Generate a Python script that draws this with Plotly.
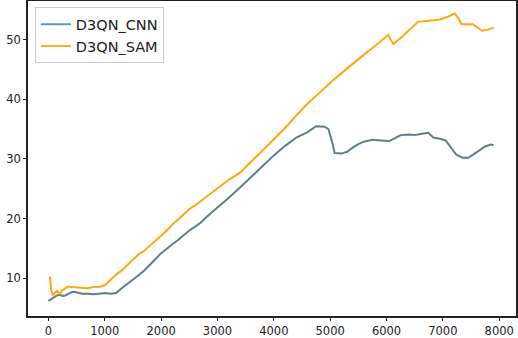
import plotly.graph_objects as go

# D3QN_CNN curve
cnn_x = [0, 50, 100, 150, 200, 250, 300, 350, 400, 450, 500, 550, 600, 700, 800, 900,
         1000, 1100, 1200, 1300, 1400, 1500, 1600, 1700, 1800, 1900, 2000, 2100, 2200,
         2300, 2400, 2500, 2600, 2700, 2800, 2900, 3000, 3200, 3400, 3600, 3800, 4000,
         4200, 4400, 4600, 4750, 4900, 4970, 5030, 5080, 5200, 5300, 5400, 5500, 5600,
         5750, 5900, 6050, 6150, 6250, 6400, 6500, 6600, 6740, 6830, 6950, 7050, 7130,
         7240, 7350, 7450, 7550, 7650, 7750, 7850, 7900]
cnn_y = [6.2, 6.5, 6.9, 7.1, 7.2, 7.0, 7.1, 7.4, 7.6, 7.7, 7.6, 7.5, 7.4, 7.4, 7.3, 7.4,
         7.5, 7.4, 7.5, 8.3, 9.0, 9.7, 10.5, 11.3, 12.2, 13.2, 14.2, 15.0, 15.7,
         16.4, 17.2, 18.0, 18.6, 19.3, 20.2, 21.0, 21.8, 23.5, 25.2, 27.0, 28.8, 30.6,
         32.2, 33.6, 34.5, 35.5, 35.4, 35.0, 33.0, 31.0, 30.9, 31.2, 31.9, 32.5, 32.9,
         33.2, 33.1, 33.0, 33.5, 34.0, 34.1, 34.0, 34.2, 34.4, 33.6, 33.4, 33.1, 32.0,
         30.7, 30.2, 30.2, 30.8, 31.5, 32.1, 32.4, 32.3]

# D3QN_SAM curve
sam_x = [25, 50, 75, 100, 150, 200, 250, 300, 350, 400, 500, 600, 700, 800, 900, 1000,
         1100, 1200, 1300, 1400, 1500, 1600, 1700, 1800, 1900, 2000, 2100, 2200, 2300,
         2400, 2500, 2600, 2700, 2800, 2900, 3000, 3200, 3400, 3600, 3800, 4000, 4200,
         4400, 4600, 4800, 5000, 5200, 5400, 5600, 5800, 5950, 6030, 6080, 6120, 6250,
         6400, 6560, 6750, 6950, 7100, 7210, 7280, 7330, 7530, 7620, 7700, 7800, 7900]
sam_y = [10.3, 8.0, 7.2, 7.3, 7.9, 7.4, 8.0, 8.3, 8.6, 8.5, 8.4, 8.4, 8.3, 8.5, 8.5, 8.8,
         9.7, 10.6, 11.3, 12.2, 13.2, 14.0, 14.6, 15.4, 16.3, 17.1, 18.0, 19.0, 19.8,
         20.7, 21.6, 22.2, 22.9, 23.6, 24.3, 25.0, 26.5, 27.7, 29.5, 31.4, 33.3, 35.2,
         37.3, 39.3, 41.0, 42.8, 44.4, 46.0, 47.5, 49.0, 50.2, 50.8, 49.9, 49.3, 50.3,
         51.6, 53.0, 53.2, 53.4, 53.9, 54.4, 53.5, 52.6, 52.6, 52.0, 51.5, 51.7, 52.0]

x_ticks = [0, 1000, 2000, 3000, 4000, 5000, 6000, 7000, 8000]
y_ticks = [10, 20, 30, 40, 50]

fig = go.Figure()

fig.add_trace(go.Scatter(x=cnn_x, y=cnn_y, mode="lines", showlegend=False,
                         line=dict(color="rgb(98,126,140)", width=2)))
fig.add_trace(go.Scatter(x=sam_x, y=sam_y, mode="lines", showlegend=False,
                         line=dict(color="rgb(255,168,20)", width=2)))
# legend entries
fig.add_trace(go.Scatter(x=[None], y=[None], mode="lines", name="D3QN_CNN",
                         line=dict(color="rgb(90,150,200)", width=2)))
fig.add_trace(go.Scatter(x=[None], y=[None], mode="lines", name="D3QN_SAM",
                         line=dict(color="rgb(255,178,40)", width=2)))

axis_common = dict(showgrid=False, zeroline=False, showline=True, mirror=True,
                   linecolor="#222", linewidth=1.5, ticks="outside", ticklen=3,
                   tickwidth=1, tickcolor="#222", automargin=False,
                   tickfont=dict(family="DejaVu Sans", size=11.5, color="#222"))

fig.update_xaxes(range=[-363, 8298], tickvals=x_ticks, **axis_common)
fig.update_yaxes(range=[3.65, 56.5], tickvals=y_ticks, **axis_common)

fig.update_layout(
    width=518, height=338,
    margin=dict(l=28, r=2, t=1, b=22),
    paper_bgcolor="white", plot_bgcolor="white",
    legend=dict(x=0.014, y=0.98, xanchor="left", yanchor="top",
                bgcolor="white", bordercolor="#ccc", borderwidth=1,
                font=dict(family="DejaVu Sans", size=14.5, color="#222"),
                tracegroupgap=0),
)

# drop the page's default body margin so the figure sits at the window origin
fig.write_html("out.html", config={"displayModeBar": False},
               post_script="document.body.style.margin='0';")
